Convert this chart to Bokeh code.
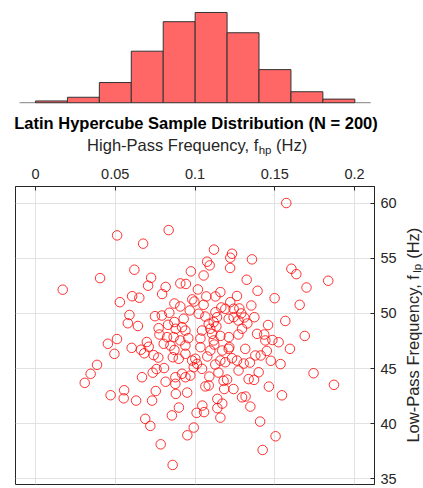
import numpy as np
from bokeh.plotting import figure
from bokeh.layouts import column, row
from bokeh.models import FixedTicker, Range1d
from bokeh.core.properties import value
from bokeh.embed import file_html
from bokeh.resources import INLINE

# High-pass frequency samples (Hz)
hp = [0.1572, 0.0512, 0.0835, 0.0675, 0.1119, 0.1232, 0.1221, 0.1357, 0.1076, 0.1092,
      0.1220, 0.0620, 0.0974, 0.1604, 0.1635, 0.1054, 0.0725, 0.0405, 0.1835, 0.1324,
      0.0908, 0.0943, 0.0706, 0.0816, 0.0171, 0.1018, 0.0794, 0.1699, 0.1392, 0.0606,
      0.0651, 0.1159, 0.1128, 0.1263, 0.1499, 0.0983, 0.0996, 0.0529, 0.0871, 0.1221,
      0.1054, 0.1656, 0.0908, 0.1353, 0.0967, 0.1190, 0.1242, 0.0839, 0.0792, 0.0749,
      0.1128, 0.1138, 0.1211, 0.0929, 0.0589, 0.1372, 0.1566, 0.1278, 0.1290, 0.1309,
      0.1272, 0.1328, 0.0871, 0.0831, 0.0579, 0.0642, 0.1458, 0.1086, 0.1096, 0.1107,
      0.1044, 0.0772, 0.0777, 0.0825, 0.0879, 0.0940, 0.1295, 0.1272, 0.1159, 0.1212,
      0.1389, 0.1434, 0.1485, 0.1441, 0.1688, 0.0958, 0.0698, 0.0454, 0.0511, 0.0495,
      0.0603, 0.0661, 0.0710, 0.0682, 0.0741, 0.0804, 0.0846, 0.0871, 0.0861, 0.0866,
      0.0908, 0.0940, 0.0898, 0.0940, 0.1034, 0.1096, 0.1117, 0.1211, 0.1002, 0.1013,
      0.0992, 0.1044, 0.0982, 0.1159, 0.1190, 0.1232, 0.1273, 0.0919, 0.0877, 0.0940,
      0.0971, 0.0877, 0.0880, 0.0951, 0.1065, 0.1086, 0.1179, 0.1201, 0.1183, 0.1241,
      0.1140, 0.1171, 0.1140, 0.0899, 0.0855, 0.1046, 0.1010, 0.1057, 0.1159, 0.1295,
      0.1315, 0.1524, 0.1595, 0.1450, 0.1263, 0.1305, 0.1344, 0.1378, 0.1412, 0.1475,
      0.1536, 0.1399, 0.1336, 0.1370, 0.1463, 0.1545, 0.1317, 0.1347, 0.1408, 0.1215,
      0.1743, 0.1871, 0.1505, 0.1424, 0.0992, 0.0952, 0.0668, 0.0735, 0.0759, 0.0806,
      0.0816, 0.0754, 0.0731, 0.0471, 0.0556, 0.0553, 0.0631, 0.0688, 0.0720, 0.0785,
      0.0860, 0.0386, 0.0346, 0.0309, 0.1023, 0.1242, 0.1117, 0.0919, 0.1034, 0.1065,
      0.1121, 0.1077, 0.1127, 0.1171, 0.1134, 0.1147, 0.1090, 0.1165, 0.1071, 0.0770]

# Low-pass frequency samples (Hz)
lp = [60.00, 57.07, 57.55, 56.32, 55.78, 55.41, 55.05, 54.90, 54.69, 54.35,
      54.12, 53.96, 53.81, 54.05, 53.56, 53.44, 53.23, 53.20, 52.96, 53.05,
      52.72, 52.67, 52.51, 52.40, 52.15, 52.17, 51.76, 52.35, 52.05, 51.56,
      51.42, 51.93, 51.54, 51.58, 51.38, 51.27, 51.08, 51.02, 50.90, 51.02,
      50.78, 50.78, 50.63, 50.72, 50.27, 50.42, 50.42, 50.06, 49.81, 49.75,
      50.11, 49.66, 49.52, 49.52, 49.86, 49.66, 49.32, 50.45, 50.00, 49.63,
      49.36, 49.09, 49.22, 48.97, 49.11, 48.86, 48.95, 49.06, 48.61, 48.15,
      48.45, 48.66, 48.09, 47.85, 48.61, 48.45, 48.61, 48.09, 47.96, 47.85,
      48.15, 48.09, 47.59, 47.55, 47.96, 47.76, 47.41, 47.25, 47.68, 46.34,
      46.88, 46.71, 46.98, 46.39, 46.22, 47.25, 47.09, 46.69, 46.03, 47.85,
      47.55, 47.09, 45.89, 46.34, 46.94, 46.64, 47.55, 46.79, 45.89, 45.43,
      45.13, 44.98, 45.73, 45.73, 45.58, 45.94, 44.83, 44.53, 44.22, 44.22,
      44.37, 43.62, 42.71, 42.83, 43.39, 43.47, 43.89, 44.01, 43.15, 43.15,
      42.26, 41.83, 41.42, 41.47, 40.76, 41.65, 40.99, 41.06, 40.56, 42.40,
      46.79, 47.39, 46.79, 46.60, 45.73, 45.46, 45.55, 46.19, 46.19, 45.71,
      45.41, 44.67, 44.05, 43.98, 43.37, 42.58, 42.47, 41.56, 40.20, 46.94,
      44.58, 43.53, 38.87, 37.63, 39.66, 38.96, 44.22, 44.63, 44.96, 45.05,
      43.81, 42.97, 42.10, 42.59, 43.04, 42.31, 42.10, 40.45, 39.81, 38.14,
      36.27, 45.34, 44.53, 43.71, 49.97, 49.66, 49.21, 48.75, 47.73, 49.72,
      47.18, 46.10, 45.37, 46.64, 48.82, 44.64, 44.28, 50.54, 51.54, 46.00]

# Histogram of the high-pass samples
bin_edges = [0.00, 0.02, 0.04, 0.06, 0.08, 0.10, 0.12, 0.14, 0.16, 0.18, 0.20]
bin_counts = [1, 3, 11, 28, 44, 49, 38, 18, 6, 2]
hist_xlim = [-0.01, 0.21]

x_ticks = [0, 0.05, 0.1, 0.15, 0.2]
x_tick_labels = ["0", "0.05", "0.1", "0.15", "0.2"]
y_ticks = [35, 40, 45, 50, 55, 60]

title_text = "Latin Hypercube Sample Distribution (N = 200)"
xlab_main, xlab_sub, xlab_tail = "High-Pass Frequency, f", "hp", "(Hz)"
ylab_main, ylab_sub, ylab_tail = "Low-Pass Frequency, f", "lp", "(Hz)"

FONT = "Liberation Sans"
TXT = "#262626"


def strip(w, hgt, xr, yr, **borders):
    f = figure(width=w, height=hgt, x_range=Range1d(*xr), y_range=Range1d(*yr),
               output_backend="svg", toolbar_location=None, x_axis_type=None, y_axis_type=None,
               title=None, min_border=0, **borders)
    f.grid.visible = False
    f.outline_line_color = None
    return f


def txt(fig, x, y, s, size, align="left", bold=False, color=TXT, angle=0.0):
    fig.text(x=[x], y=[y], text=[s], angle=angle, text_align=align, text_baseline="middle",
             text_font=value(FONT), text_font_size=value(size),
             text_font_style="bold" if bold else "normal", text_color=color)


# ---------------- histogram (page y 0-105), frame spans full width ----------------
h = figure(width=423, height=105, x_range=Range1d(-0.02192, 0.24303), y_range=Range1d(-0.38, 55.5),
           output_backend="svg", toolbar_location=None, x_axis_type=None, y_axis_type=None,
           title=None, min_border=0, min_border_left=0, min_border_right=0,
           min_border_top=0, min_border_bottom=2)
h.grid.visible = False
h.outline_line_color = None
h.segment(x0=[hist_xlim[0]], y0=[0], x1=[hist_xlim[1]], y1=[0], line_color="#9a9a9a", line_width=1.5)
h.quad(left=bin_edges[:-1], right=bin_edges[1:], bottom=0, top=bin_counts,
       fill_color="#ff6666", line_color="#333333", line_width=1)

# ---------------- title + top axis label strip (page y 105-158) ----------------
t = strip(423, 53, (0, 423), (0, 53), min_border_left=0, min_border_right=0,
          min_border_top=0, min_border_bottom=0)
txt(t, 195.5, 35.3, title_text, "16.5px", align="center", bold=True, color="black")
txt(t, 257.8, 13.8, xlab_main, "16.5px", align="right")
txt(t, 258.2, 8.5, xlab_sub, "11.5px")
txt(t, 275.5, 13.8, xlab_tail, "16.5px")

# ---------------- scatter (page y 158-488, x 0-399) ----------------
p = figure(width=399, height=330, x_range=Range1d(-0.0125, 0.2125), y_range=Range1d(34.5, 61.5),
           x_axis_location="above", y_axis_location="right",
           output_backend="svg", toolbar_location=None, title=None,
           min_border_left=15, min_border_right=25, min_border_top=28, min_border_bottom=4)
p.scatter(hp, lp, marker="circle", size=9.5, fill_color=None, line_color="#ff0000",
          line_width=1, line_alpha=0.8)
p.outline_line_color = TXT
p.outline_line_width = 1
p.xgrid.ticker = FixedTicker(ticks=x_ticks)
p.ygrid.ticker = FixedTicker(ticks=y_ticks)
p.grid.grid_line_color = "#e2e2e2"
p.grid.grid_line_width = 1

for ax in (p.xaxis[0], p.yaxis[0]):
    ax.major_tick_in = 4
    ax.major_tick_out = 0
    ax.minor_tick_line_color = None
    ax.major_tick_line_color = TXT
    ax.axis_line_color = TXT
    ax.major_label_text_font = FONT
    ax.major_label_text_font_size = "14.5px"
    ax.major_label_text_color = TXT

p.xaxis[0].ticker = FixedTicker(ticks=x_ticks)
p.xaxis[0].major_label_overrides = {tk: s for tk, s in zip(x_ticks, x_tick_labels)}
p.xaxis[0].major_label_standoff = 8
p.yaxis[0].ticker = FixedTicker(ticks=y_ticks)
p.yaxis[0].major_label_standoff = 6

# ---------------- right axis label strip (page x 399-423; frame aligned to scatter frame) ----------------
r = strip(24, 330, (399, 423), (4, 302), min_border_left=0, min_border_right=0,
          min_border_top=28, min_border_bottom=4)
ang = np.pi / 2
txt(r, 412.0, 45.9, ylab_main, "16.5px", angle=ang)
txt(r, 416.6, 215.8, ylab_sub, "11.5px", angle=ang)
txt(r, 412.0, 229.7, ylab_tail, "16.5px", angle=ang)

layout = column(h, t, row(p, r, spacing=0), spacing=0)
open("out.html", "w").write(file_html(layout, INLINE))
